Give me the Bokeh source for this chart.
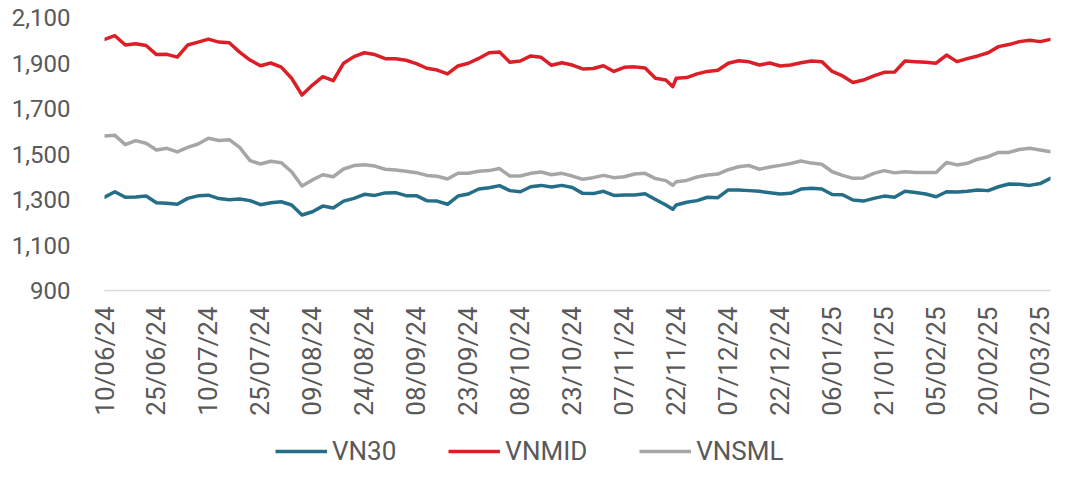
import math
import pandas as pd
from bokeh.plotting import figure
from bokeh.layouts import column
from bokeh.models import (FixedTicker, NumeralTickFormatter, DatetimeTickFormatter,
                          Range1d, Legend, LegendItem)
from bokeh.embed import file_html
from bokeh.resources import INLINE

dates = [
    "2024-06-10", "2024-06-13", "2024-06-16", "2024-06-19", "2024-06-22", "2024-06-25",
    "2024-06-28", "2024-07-01", "2024-07-04", "2024-07-07", "2024-07-10", "2024-07-13",
    "2024-07-16", "2024-07-19", "2024-07-22", "2024-07-25", "2024-07-28", "2024-07-31",
    "2024-08-03", "2024-08-06", "2024-08-09", "2024-08-12", "2024-08-15", "2024-08-18",
    "2024-08-21", "2024-08-24", "2024-08-27", "2024-08-30", "2024-09-02", "2024-09-05",
    "2024-09-08", "2024-09-11", "2024-09-14", "2024-09-17", "2024-09-20", "2024-09-23",
    "2024-09-26", "2024-09-29", "2024-10-02", "2024-10-05", "2024-10-08", "2024-10-11",
    "2024-10-14", "2024-10-17", "2024-10-20", "2024-10-23", "2024-10-26", "2024-10-29",
    "2024-11-01", "2024-11-04", "2024-11-07", "2024-11-10", "2024-11-13", "2024-11-16",
    "2024-11-19", "2024-11-21", "2024-11-22", "2024-11-25", "2024-11-28", "2024-12-01",
    "2024-12-04", "2024-12-07", "2024-12-10", "2024-12-13", "2024-12-16", "2024-12-19",
    "2024-12-22", "2024-12-25", "2024-12-28", "2024-12-31", "2025-01-03", "2025-01-06",
    "2025-01-09", "2025-01-12", "2025-01-15", "2025-01-18", "2025-01-21", "2025-01-24",
    "2025-01-27", "2025-01-30", "2025-02-02", "2025-02-05", "2025-02-08", "2025-02-11",
    "2025-02-14", "2025-02-17", "2025-02-20", "2025-02-23", "2025-02-26", "2025-03-01",
    "2025-03-04", "2025-03-07", "2025-03-10",
]

vn30 = [
    1310, 1334, 1310, 1311, 1315, 1286, 1283, 1279, 1305, 1316, 1319, 1304, 1299,
    1302, 1295, 1277, 1286, 1290, 1276, 1232, 1246, 1271, 1263, 1293, 1305, 1323,
    1318, 1329, 1330, 1317, 1317, 1295, 1293, 1279, 1315, 1324, 1346, 1352, 1361,
    1339, 1334, 1356, 1362, 1355, 1362, 1353, 1327, 1326, 1336, 1318, 1320, 1320,
    1325, 1300, 1276, 1257, 1276, 1288, 1295, 1310, 1308, 1342, 1342, 1339, 1336, 1330,
    1324, 1327, 1346, 1349, 1346, 1322, 1321, 1298, 1293, 1305, 1315, 1310, 1336,
    1331, 1324, 1312, 1334, 1333, 1336, 1342, 1339, 1356, 1368, 1367, 1362, 1370, 1393,
]

vnmid = [
    2004, 2020, 1979, 1985, 1977, 1937, 1938, 1926, 1979, 1992, 2005, 1992, 1989,
    1948, 1913, 1888, 1900, 1882, 1833, 1759, 1803, 1840, 1822, 1899, 1928, 1945,
    1937, 1919, 1919, 1912, 1897, 1877, 1869, 1852, 1887, 1899, 1920, 1945, 1948,
    1903, 1909, 1931, 1925, 1890, 1901, 1891, 1874, 1876, 1888, 1863, 1881, 1883,
    1878, 1833, 1825, 1796, 1833, 1836, 1852, 1863, 1868, 1899, 1910, 1905, 1891, 1900,
    1887, 1891, 1901, 1909, 1906, 1863, 1843, 1814, 1825, 1843, 1859, 1860, 1909,
    1906, 1903, 1899, 1935, 1906, 1919, 1931, 1945, 1972, 1981, 1994, 2000, 1994, 2004,
]

vnsml = [
    1579, 1582, 1541, 1559, 1547, 1518, 1525, 1509, 1529, 1544, 1569, 1559, 1563,
    1529, 1471, 1456, 1468, 1462, 1422, 1359, 1386, 1409, 1400, 1434, 1449, 1453,
    1447, 1433, 1430, 1424, 1418, 1406, 1402, 1390, 1415, 1415, 1424, 1427, 1436,
    1403, 1403, 1415, 1421, 1409, 1415, 1403, 1389, 1396, 1406, 1396, 1400, 1412,
    1415, 1392, 1383, 1363, 1378, 1384, 1399, 1408, 1412, 1431, 1444, 1449, 1433, 1443,
    1450, 1458, 1469, 1460, 1455, 1422, 1406, 1393, 1395, 1415, 1427, 1417, 1422,
    1419, 1419, 1419, 1463, 1452, 1459, 1477, 1488, 1507, 1507, 1520, 1525, 1518, 1510,
]

tick_labels = [
    "10/06/24", "25/06/24", "10/07/24", "25/07/24", "09/08/24", "24/08/24", "08/09/24",
    "23/09/24", "08/10/24", "23/10/24", "07/11/24", "22/11/24", "07/12/24", "22/12/24",
    "06/01/25", "21/01/25", "05/02/25", "20/02/25", "07/03/25",
]
y_ticks = [900, 1100, 1300, 1500, 1700, 1900, 2100]

series_names = ["VN30", "VNMID", "VNSML"]
colors = ["#246E87", "#DC1F26", "#A6A6A6"]
series = [vn30, vnmid, vnsml]

FONT = "Roboto"
TXT = "#595959"
LW = 3.5

x = pd.to_datetime(dates)
tick_ts = pd.to_datetime(tick_labels, format="%d/%m/%y")
tick_ms = [t.value / 1e6 for t in tick_ts]

p = figure(width=1055, height=436, output_backend="svg", toolbar_location=None,
           x_axis_type="datetime",
           x_range=Range1d(x[0], x[-1]), y_range=Range1d(900, 2100),
           min_border_left=104, min_border_right=5, min_border_top=17,
           min_border_bottom=146)
p.outline_line_color = None
p.xgrid.visible = False
p.ygrid.visible = False
p.background_fill_color = "white"

for vals, c in zip(series, colors):
    p.line(x, vals, line_color=c, line_width=LW, line_join="round", line_cap="round")

# y axis
p.yaxis.ticker = FixedTicker(ticks=y_ticks)
p.yaxis.formatter = NumeralTickFormatter(format="0,0")
p.yaxis.axis_line_color = None
p.yaxis.major_tick_line_color = None
p.yaxis.minor_tick_line_color = None
p.yaxis.major_label_standoff = 28
p.yaxis.major_label_text_font = FONT
p.yaxis.major_label_text_font_size = "24px"
p.yaxis.major_label_text_color = TXT

# x axis
fmt = "%d/%m/%y"
p.xaxis.ticker = FixedTicker(ticks=tick_ms)
p.xaxis.formatter = DatetimeTickFormatter(days=fmt, months=fmt, years=fmt, hours=fmt,
                                          hourmin=fmt, minutes=fmt, minsec=fmt,
                                          seconds=fmt, milliseconds=fmt, microseconds=fmt)
p.xaxis.axis_line_color = "#D9D9D9"
p.xaxis.axis_line_width = 1.5
p.xaxis.major_tick_line_color = None
p.xaxis.minor_tick_line_color = None
p.xaxis.major_label_orientation = math.pi / 2
p.xaxis.major_label_standoff = 10
p.xaxis.major_label_text_font = FONT
p.xaxis.major_label_text_font_size = "26px"
p.xaxis.major_label_text_color = TXT

# legend strip below the chart (series drawn out of view, legend only)
lf = figure(width=1055, height=30, output_backend="svg", toolbar_location=None,
            x_axis_type="datetime",
            x_range=Range1d(x[0], x[-1]), y_range=Range1d(0, 1),
            min_border_left=104, min_border_right=5, min_border_top=0, min_border_bottom=0)
lf.axis.visible = False
lf.grid.visible = False
lf.outline_line_color = None
items = []
for n, vals, c in zip(series_names, series, colors):
    r = lf.line(x, vals, line_color=c, line_width=LW, line_cap="butt")
    items.append(LegendItem(label=n, renderers=[r]))
legend = Legend(
    items=items, orientation="horizontal", location=(171, 0),
    glyph_width=52, glyph_height=20, label_standoff=5, spacing=52,
    padding=0, margin=0, border_line_color=None, background_fill_alpha=0,
    label_text_font=FONT, label_text_font_size="26px", label_text_color=TXT,
)
lf.add_layout(legend)

layout = column(p, lf, spacing=0)
open("out.html", "w").write(file_html(layout, INLINE))
